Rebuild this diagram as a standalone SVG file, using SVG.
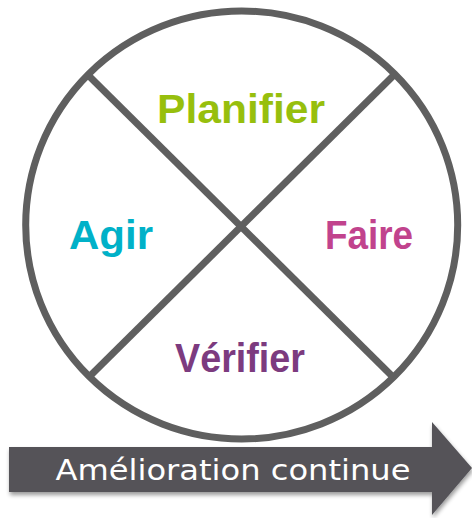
<svg xmlns="http://www.w3.org/2000/svg" width="472" height="518" viewBox="0 0 472 518">
<style>
.ring{fill:#fff;stroke:#5f5f5f;stroke-width:7}
.cut{stroke:#5f5f5f;stroke-width:7;stroke-linecap:butt}
.lbl{font-family:"Liberation Sans","DejaVu Sans",sans-serif;font-weight:bold;font-size:41px;text-anchor:middle}
</style>
<defs>
<filter id="sh" x="-10%" y="-20%" width="120%" height="150%">
<feGaussianBlur in="SourceAlpha" stdDeviation="2"/>
<feOffset dx="1" dy="3"/>
<feComponentTransfer><feFuncA type="linear" slope="0.4"/></feComponentTransfer>
<feMerge><feMergeNode/><feMergeNode in="SourceGraphic"/></feMerge>
</filter>
</defs>
<g id="cycle">
<ellipse class="ring" cx="241.7" cy="225" rx="216" ry="214"/>
</g>
<g id="connectors">
<line class="cut" x1="89" y1="76" x2="393" y2="377"/>
<line class="cut" x1="393" y1="76" x2="89" y2="377"/>
</g>
<g id="planifier"><text class="lbl" x="241" y="123" fill="#97bf0d" textLength="168" lengthAdjust="spacingAndGlyphs">Planifier</text></g>
<g id="agir"><text class="lbl" x="111" y="249" fill="#00b1c8" textLength="84" lengthAdjust="spacingAndGlyphs">Agir</text></g>
<g id="faire"><text class="lbl" x="369" y="249" fill="#c1438d" textLength="88" lengthAdjust="spacingAndGlyphs">Faire</text></g>
<g id="verifier"><text class="lbl" x="240" y="372" fill="#7c3b7f" textLength="130" lengthAdjust="spacingAndGlyphs">Vérifier</text></g>
<g id="amelioration">
<path d="M9,447 H432 V422 L472,468 L432,515 V492 H9 Z" fill="#545358" filter="url(#sh)"/>
<text x="233" y="480" fill="#fff" font-family="DejaVu Sans,'Liberation Sans',sans-serif" font-size="29" text-anchor="middle" textLength="355" lengthAdjust="spacingAndGlyphs">Amélioration continue</text>
</g>
</svg>
